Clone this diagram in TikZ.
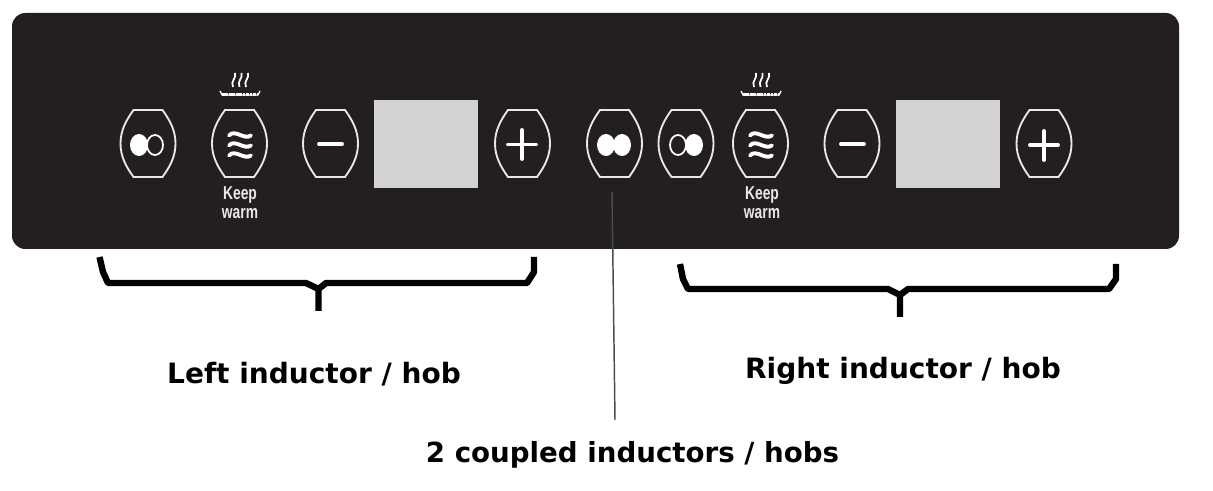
\documentclass[tikz,border=0pt]{standalone}
\usepackage{fontspec}
\setmainfont{DejaVu Sans}
\newfontfamily\keyfont{Liberation Sans}
\usepackage{tikz}
\definecolor{panelblack}{HTML}{231F20}
\definecolor{keywhite}{HTML}{E8E8E8}
\definecolor{displaygrey}{HTML}{D2D2D2}
\tikzset{every picture/.style={line width=0.75pt}}
\tikzset{
  keyline/.style={draw=keywhite,line width=1.4pt},
  glyph/.style={draw=white,line width=2.9pt,line cap=round},
  bracketline/.style={draw=black,line width=4.8pt,line join=round},
  hoblabel/.style={anchor=center,inner sep=0.75pt,font=\bfseries\fontsize{21}{25}\selectfont},
  warmlabel/.style={anchor=center,inner sep=0pt,text=keywhite,xscale=0.74,font=\keyfont\bfseries\fontsize{14}{16}\selectfont},
  pics/hobkey/.style={code={
    \draw [keyline] (-14.5,-33.5) -- (14.5,-33.5) .. controls (22,-23) and (27.5,-13) .. (27.5,0) .. controls (27.5,13) and (22,23) .. (14.5,33.5) -- (-14.5,33.5) .. controls (-22,23) and (-27.5,13) .. (-27.5,0) .. controls (-27.5,-13) and (-22,-23) .. (-14.5,-33.5) -- cycle ;
  }},
  pics/waves/.style={code={
    \draw [glyph] (-11,8) .. controls (-5,15) and (4,3) .. (11,8) ;
    \draw [glyph] (-11,-2) .. controls (-5,5) and (4,-7) .. (11,-2) ;
    \draw [glyph] (-11,-12) .. controls (-5,-5) and (4,-17) .. (11,-12) ;
  }},
  pics/steam/.style={code={
    \draw [draw=white,line width=1.3pt] (-7,-7) .. controls (-10,-1) and (-3,2) .. (-5,7) ;
    \draw [draw=white,line width=1.3pt] (-0.5,-7) .. controls (-3.5,-1) and (3.5,2) .. (1.5,7) ;
    \draw [draw=white,line width=1.3pt] (6,-7) .. controls (3,-1) and (10,2) .. (8,7) ;
    \draw [draw=white,line width=1pt] (-20,-11) -- (-18,-15) -- (18,-15) -- (20,-11) ;
    \draw [draw=white,line width=2.4pt,dash pattern=on 2pt off 0.6pt] (-18,-14.5) -- (18,-14.5) ;
  }}
}

\begin{document}
\begin{tikzpicture}[x=0.75pt,y=0.75pt,yscale=-1,xscale=1]
\useasboundingbox (0,0) rectangle (1213,491);

%Panel
\fill [panelblack,rounded corners=10pt] (12,13) rectangle (1179,249);

%Left inductor keys
\pic at (148,143.5) {hobkey};
\fill [white] (139,145) ellipse [x radius=9,y radius=11];
\draw [draw=white,line width=1.3pt] (155,145) ellipse [x radius=8,y radius=10];
\pic at (239.5,143.5) {hobkey};
\pic at (240,143.5) {waves};
\pic at (240,80) {steam};
\pic at (330.5,143.5) {hobkey};
\draw [glyph] (319,144) -- (342,144) ;
\fill [displaygrey] (374,100) rectangle (478,188);
\pic at (522.5,143.5) {hobkey};
\draw [glyph] (508,144.5) -- (536,144.5) ;
\draw [glyph] (522,130) -- (522,159) ;

%Coupled key
\pic at (614.5,143.5) {hobkey};
\fill [white] (606,145) ellipse [x radius=9,y radius=11];
\fill [white] (622,145) ellipse [x radius=9,y radius=11];

%Right inductor keys
\pic at (686,143.5) {hobkey};
\draw [draw=white,line width=1.3pt] (678,145) ellipse [x radius=8,y radius=10];
\fill [white] (694,145) ellipse [x radius=9,y radius=11];
\pic at (760.5,143.5) {hobkey};
\pic at (761,143.5) {waves};
\pic at (761,80) {steam};
\pic at (852,143.5) {hobkey};
\draw [glyph] (841,144) -- (864,144) ;
\fill [displaygrey] (896,100) rectangle (1000,188);
\pic at (1044,143.5) {hobkey};
\draw [glyph] (1030,145) -- (1058,145) ;
\draw [glyph] (1044,131) -- (1044,160) ;

% Text Node
\node (keepleft) [warmlabel] at (240,195) {Keep};
\node (warmleft) [warmlabel] at (240,214) {warm};
\node (keepright) [warmlabel] at (762,195) {Keep};
\node (warmright) [warmlabel] at (762,214) {warm};

%Brackets
\draw [bracketline] (99.5,257) -- (103,272) -- (108,283) -- (306,283) -- (318.5,289) (318.5,311) -- (318.5,289) -- (326,283) -- (527,283) -- (534,272) -- (534,257) ;
\draw [bracketline] (680,264) -- (683,279) -- (688,289) -- (888,289) -- (900,295) (900,317) -- (900,295) -- (908,289) -- (1109,289) -- (1116,279) -- (1116,264) ;

% Text Node
\node (lblleft) [hoblabel] at (314,374) {Left inductor / hob};
% Text Node
\node (lblright) [hoblabel] at (903,371) {Right inductor / hob};
% Text Node
\node (lblcoupled) [hoblabel,font=\bfseries\fontsize{20.75}{25}\selectfont] at (632.5,455) {2 coupled inductors / hobs};

%Lead line
\coordinate (leadtop) at (612,192);
\coordinate (leadend) at (615,420);
\draw [draw=black!70,line width=1.1pt] (leadtop) -- (leadend) ;

\end{tikzpicture}
\end{document}
